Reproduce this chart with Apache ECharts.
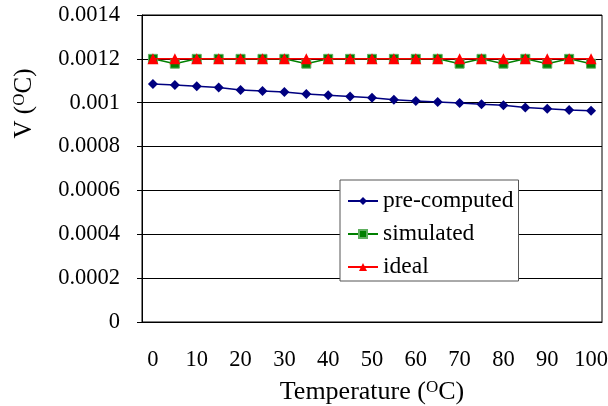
<!DOCTYPE html>
<html>
<head>
<meta charset="utf-8">
<script src="https://cdn.jsdelivr.net/npm/echarts@6/dist/echarts.min.js"></script>
<style>html,body{margin:0;padding:0;background:#fff;}#c{width:608px;height:406px;}</style>
</head>
<body>
<div id="c"></div>
<script>
const temperatures = ['0','5','10','15','20','25','30','35','40','45','50','55','60','65','70','75','80','85','90','95','100'];
const preComputed = [0.001085,0.001081,0.001075,0.001069,0.001058,0.001053,0.001049,0.001040,0.001034,0.001028,0.001023,0.001014,0.001008,0.001003,0.000999,0.000993,0.000988,0.000978,0.000972,0.000967,0.000963];
const simulated = [0.0012,0.001178,0.0012,0.0012,0.0012,0.0012,0.0012,0.001178,0.0012,0.0012,0.0012,0.0012,0.0012,0.0012,0.001178,0.0012,0.001178,0.0012,0.001178,0.0012,0.001178];
const ideal = [0.0012,0.0012,0.0012,0.0012,0.0012,0.0012,0.0012,0.0012,0.0012,0.0012,0.0012,0.0012,0.0012,0.0012,0.0012,0.0012,0.0012,0.0012,0.0012,0.0012,0.0012];
const seriesNames = ['pre-computed','simulated','ideal'];
const xTitle = 'Temperature ({sup|O}C)';
const yTitle = 'V ({sup|O}C)';

const FONT = '"Liberation Serif", "Times New Roman", serif';
const chart = echarts.init(document.getElementById('c'), null, {renderer:'canvas'});
const supRich = { sup: { fontSize: 17, fontFamily: FONT, color:'#000', verticalAlign:'top', padding:[0,0,9,0] } };
chart.setOption({
  animation: false,
  textStyle: { fontFamily: FONT },
  grid: { left: 142, right: 6, top: 15, bottom: 84, show: true, borderColor: '#000', borderWidth: 1, backgroundColor: 'transparent', outerBoundsMode: 'none', containLabel: false },
  legend: {
    orient: 'vertical', left: 340, top: 180,
    backgroundColor: '#fff', borderColor: '#555', borderWidth: 1,
    padding: [9, 5, 2, 7], itemGap: 9, itemWidth: 30, itemHeight: 10,
    textStyle: { fontFamily: FONT, fontSize: 23.5, color: '#000' },
    data: seriesNames
  },
  xAxis: {
    type: 'category', data: temperatures, boundaryGap: true,
    axisLine: { lineStyle: { color: '#000', width: 1 } },
    axisTick: { inside: true, length: 7, interval: 0, lineStyle: { color: '#000' } },
    axisLabel: { interval: 1, margin: 27, fontSize: 22.5, color: '#000', fontFamily: FONT },
    name: xTitle, nameLocation: 'middle', nameGap: 57,
    nameTextStyle: { fontSize: 26, color: '#000', fontFamily: FONT, rich: supRich }
  },
  yAxis: {
    type: 'value', min: 0, max: 0.0014, interval: 0.0002,
    axisLine: { show: true, lineStyle: { color: '#000', width: 1 } },
    axisTick: { show: true, length: 5, lineStyle: { color: '#000' } },
    splitLine: { lineStyle: { color: '#000', width: 1 } },
    axisLabel: { margin: 22, fontSize: 22.5, color: '#000', fontFamily: FONT,
      formatter: v => String(parseFloat(v.toFixed(5))) },
    name: yTitle, nameLocation: 'middle', nameGap: 105, nameRotate: 90,
    nameTextStyle: { fontSize: 25, color: '#000', fontFamily: FONT, rich: supRich, padding: [0, 0, 0, 130] }
  },
  series: [
    { name: seriesNames[0], type: 'line', data: preComputed, symbol: 'diamond', symbolSize: 10,
      lineStyle: { color: '#000080', width: 1.5 }, itemStyle: { color: '#000080' }, z: 3 },
    { name: seriesNames[1], type: 'line', data: simulated, symbol: 'rect', symbolSize: 9,
      lineStyle: { color: '#008000', width: 1.5 }, itemStyle: { color: '#008000', borderColor: '#5faf5f', borderWidth: 1 }, z: 4 },
    { name: seriesNames[2], type: 'line', data: ideal, symbol: 'triangle', symbolSize: 11,
      lineStyle: { color: '#ff0000', width: 1.5 }, itemStyle: { color: '#ff0000' }, z: 5 }
  ]
});
</script>
</body>
</html>
